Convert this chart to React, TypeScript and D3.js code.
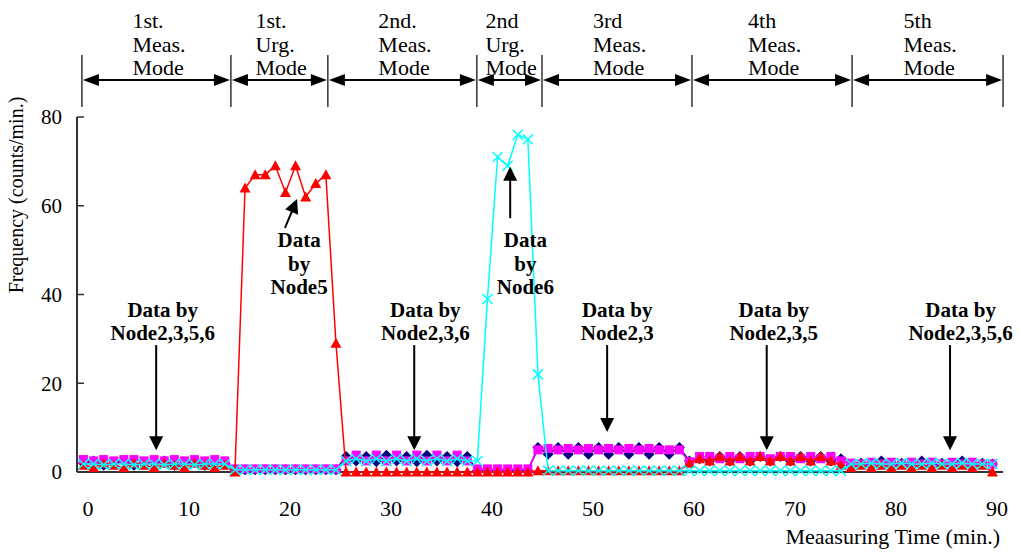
import React from "react";
import * as d3 from "d3";

// ---- data ----
const xTicks = [0, 10, 20, 30, 40, 50, 60, 70, 80, 90];
const yTicks = [0, 20, 40, 60, 80];

// sample index n = 0..90 (one sample per minute)
const node2 = [
  2, 2.5, 1.5, 2, 2.5, 1.5, 2, 2, 2.5, 1.5, 2, 2.5, 1.5, 2, 2,
  0.5, 0.5, 0.5, 0.5, 0.5, 0.5, 0.5, 0.5, 0.5, 0.5, 0.5,
  3.5, 2.5, 3.5, 2.3, 3.8, 2.5, 3.5, 2.3, 3.8, 2.5, 3.5, 2.3, 3.5,
  0.3, 0.3, 0.3, 0.3, 0.3, 0.3,
  5.5, 4, 5.5, 4, 5.5, 4, 5.5, 4, 5.5, 4, 5.5, 4, 5.5, 4, 5.5,
  2.5, 3, 2.5, 3.5, 2.5, 3.5, 2.5, 3.5, 2.5, 3.5, 2.5, 3.5, 2.5, 3.5, 2.5, 3,
  1.5, 2, 1.5, 2.5, 1.5, 2, 1.5, 2.5, 1.5, 2, 1.5, 2.5, 1.5, 2, 1.8,
];
const node3 = [
  2.8, 2.5, 2.8, 2.5, 2.8, 2.8, 2.5, 2.8, 2.5, 2.8, 2.5, 2.8, 2.5, 2.8, 2.5,
  0.7, 0.7, 0.7, 0.7, 0.7, 0.7, 0.7, 0.7, 0.7, 0.7, 0.7,
  2.5, 3.8, 2.5, 3.8, 2.5, 3.8, 2.5, 3.8, 2.5, 3.8, 2.5, 3.8, 2.5,
  0.7, 0.7, 0.7, 0.7, 0.7, 0.7,
  5, 5.3, 5, 5.3, 5, 5.3, 5, 5.3, 5, 5.3, 5, 5.3, 5, 5, 5,
  2.3, 3.5, 3.5, 3, 3.5, 3, 3.5, 3.5, 3, 3.5, 3.5, 3, 3.5, 3, 3.5, 2.5,
  2, 1.8, 2.2, 1.8, 2.2, 1.8, 2.2, 1.8, 2.2, 1.8, 2.2, 1.8, 2.2, 1.8, 1.8,
];
const node5 = [
  1.5, 1, 2, 1.5, 1, 2, 1.5, 1, 2, 1.5, 1, 2, 1.5, 1, 1.5,
  0, 64, 67, 67, 69, 63, 69, 62, 65, 67, 29,
  0, 0, 0, 0, 0, 0, 0, 0, 0, 0, 0, 0, 0,
  0, 0, 0, 0, 0, 0,
  0.3, 0.3, 0.3, 0.3, 0.3, 0.3, 0.3, 0.3, 0.3, 0.3, 0.3, 0.3, 0.3, 0.3, 0.3,
  2, 3, 2.5, 3.5, 2.5, 3.5, 2.5, 3.5, 2.5, 3.5, 2.5, 3.5, 2.5, 3.5, 2.5, 1.5,
  1, 1.5, 1, 1.5, 1, 1.5, 1, 1.5, 1, 1.5, 1, 1.5, 1, 1.5, 0,
];
const node6 = [
  1.8, 1.8, 1.6, 1.8, 1.8, 1.6, 1.8, 1.8, 1.6, 1.8, 1.8, 1.6, 1.8, 1.8, 1.8,
  0.5, 0.5, 0.5, 0.5, 0.5, 0.5, 0.5, 0.5, 0.5, 0.5, 0.5,
  2.5, 3, 2.5, 3, 2.5, 3, 2.5, 3, 2.5, 3, 2.5, 3, 2.5,
  2.5, 39, 71, 69, 76, 75,
  22, 0.3, 0.3, 0.3, 0.3, 0.3, 0.3, 0.3, 0.3, 0.3, 0.3, 0.3, 0.3, 0.3, 0.3,
  0.3, 0.3, 0.3, 0.3, 0.3, 0.3, 0.3, 0.3, 0.3, 0.3, 0.3, 0.3, 0.3, 0.3, 0.3, 0.3,
  1.8, 1.8, 2, 1.8, 1.8, 2, 1.8, 1.8, 2, 1.8, 1.8, 2, 1.8, 1.8, 1.8,
];
const sampleOffset = -0.45; // sample n is taken at minute n + offset

const modeBounds = [-0.6, 14.15, 23.75, 38.5, 44.95, 59.8, 75.65, 90.6];
const modeLabels = [
  ["1st.", "Meas.", "Mode"],
  ["1st.", "Urg.", "Mode"],
  ["2nd.", "Meas.", "Mode"],
  ["2nd", "Urg.", "Mode"],
  ["3rd", "Meas.", "Mode"],
  ["4th", "Meas.", "Mode"],
  ["5th", "Meas.", "Mode"],
];

// annotations: text centre (minute), first baseline (value), arrow from (t1,v1) to (t2,v2)
const notes = [
  { lines: ["Data by", "Node2,3,5,6"], t: 7.4, v: 35.0, a: [6.75, 28.6, 6.75, 4.9] },
  { lines: ["Data", "by", "Node5"], t: 20.9, v: 50.6, a: [19.5, 55.0, 20.7, 61.5] },
  { lines: ["Data by", "Node2,3,6"], t: 33.4, v: 35.0, a: [32.3, 28.6, 32.3, 4.9] },
  { lines: ["Data", "by", "Node6"], t: 43.3, v: 50.6, a: [41.8, 57.2, 41.8, 68.8] },
  { lines: ["Data by", "Node2,3"], t: 52.4, v: 35.0, a: [51.4, 28.6, 51.4, 9.0] },
  { lines: ["Data by", "Node2,3,5"], t: 67.9, v: 35.0, a: [67.2, 28.6, 67.2, 4.9] },
  { lines: ["Data by", "Node2,3,5,6"], t: 86.4, v: 35.0, a: [85.35, 28.6, 85.35, 4.9] },
];

const SERIF = "'Liberation Serif', 'Times New Roman', Times, serif";

export default function App() {
  const x = d3.scaleLinear().domain([0, 90]).range([88, 997]);
  const y = d3.scaleLinear().domain([0, 80]).range([472, 117]);
  const x0 = 77;
  const xEnd = 1003;

  const mk = (vals: number[]) => vals.map((v, i) => [x(i + sampleOffset), y(v)] as [number, number]);
  const line = d3.line<[number, number]>();

  const s2 = mk(node2);
  const s3 = mk(node3);
  const s5 = mk(node5);
  const s6 = mk(node6);

  const arrowHead = (x1: number, y1: number, x2: number, y2: number, len: number, hw: number) => {
    const dx = x2 - x1, dy = y2 - y1;
    const L = Math.hypot(dx, dy);
    const ux = dx / L, uy = dy / L;
    const bx = x2 - ux * len, by = y2 - uy * len;
    return `${x2},${y2} ${bx - uy * hw},${by + ux * hw} ${bx + uy * hw},${by - ux * hw}`;
  };

  const modeY = 80;

  return (
    <svg width={1019} height={552} style={{ position: "absolute", left: 0, top: 0, background: "#fff" }}>
      <rect width={1019} height={552} fill="#fff" />
      {/* mode bracket area */}
      {modeBounds.map((t, i) => (
        <line key={"mb" + i} x1={x(t)} x2={x(t)} y1={55} y2={107} stroke="#000" strokeWidth={1.2} />
      ))}
      {modeLabels.map((lab, i) => {
        const a = x(modeBounds[i]);
        const b = x(modeBounds[i + 1]);
        const c = (a + b) / 2;
        return (
          <g key={"ml" + i}>
            <line x1={a + 14} x2={b - 14} y1={modeY} y2={modeY} stroke="#000" strokeWidth={2} />
            <polygon points={arrowHead(b - 20, modeY, a + 1, modeY, 16, 6)} fill="#000" />
            <polygon points={arrowHead(a + 20, modeY, b - 1, modeY, 16, 6)} fill="#000" />
            {lab.map((s, k) => (
              <text key={k} x={c - 24} y={28 + k * 23.5} fontFamily={SERIF} fontSize={22} fill="#000">
                {s}
              </text>
            ))}
          </g>
        );
      })}

      {/* axes */}
      <line x1={x0} x2={x0} y1={y(80)} y2={y(0)} stroke="#333" strokeWidth={2} />
      <line x1={x0} x2={xEnd} y1={y(0)} y2={y(0)} stroke="#333" strokeWidth={2} />
      {yTicks.map((v) => (
        <g key={"yt" + v}>
          <line x1={x0} x2={x0 + 7} y1={y(v)} y2={y(v)} stroke="#333" strokeWidth={1.5} />
          <text x={62} y={y(v)} dy="0.35em" textAnchor="end" fontFamily={SERIF} fontSize={21} fill="#000">
            {v}
          </text>
        </g>
      ))}
      {xTicks.map((t) => (
        <text key={"xt" + t} x={x(t)} y={516} textAnchor="middle" fontFamily={SERIF} fontSize={22} fill="#000">
          {t}
        </text>
      ))}
      <text x={1000} y={544} textAnchor="end" fontFamily={SERIF} fontSize={22} fill="#000">
        Meaasuring Time (min.)
      </text>
      <text
        transform={`translate(23,${195}) rotate(-90)`}
        textAnchor="middle"
        fontFamily={SERIF}
        fontSize={20}
        fill="#000"
      >
        Frequency (counts/min.)
      </text>

      {/* series: Node2 navy diamond */}
      <path d={line(s2) || ""} fill="none" stroke="#000080" strokeWidth={1.5} />
      {s2.map(([px, py], i) => (
        <polygon key={"d" + i} points={`${px},${py - 5.5} ${px + 5.5},${py} ${px},${py + 5.5} ${px - 5.5},${py}`} fill="#000080" />
      ))}
      {/* Node3 magenta square */}
      <path d={line(s3) || ""} fill="none" stroke="#FF00FF" strokeWidth={1.5} />
      {s3.map(([px, py], i) => (
        <rect key={"s" + i} x={px - 4.5} y={py - 4.5} width={9} height={9} fill="#FF00FF" />
      ))}
      {/* Node5 red triangle */}
      <path d={line(s5) || ""} fill="none" stroke="#FF0000" strokeWidth={1.5} />
      {s5.map(([px, py], i) => (
        <polygon key={"t" + i} points={`${px},${py - 5.5} ${px + 5.5},${py + 4.5} ${px - 5.5},${py + 4.5}`} fill="#FF0000" />
      ))}
      {/* Node6 cyan x */}
      <path d={line(s6) || ""} fill="none" stroke="#00FFFF" strokeWidth={1.5} />
      {s6.map(([px, py], i) => (
        <path key={"x" + i} d={`M${px - 5},${py - 5}L${px + 5},${py + 5}M${px - 5},${py + 5}L${px + 5},${py - 5}`} stroke="#00FFFF" strokeWidth={1.5} />
      ))}

      {/* annotations */}
      {notes.map((n, i) => {
        const [t1, v1, t2, v2] = n.a;
        const X1 = x(t1), Y1 = y(v1), X2 = x(t2), Y2 = y(v2);
        const dx = X2 - X1, dy = Y2 - Y1, L = Math.hypot(dx, dy);
        return (
          <g key={"n" + i}>
            {n.lines.map((s, k) => (
              <text key={k} x={x(n.t)} y={y(n.v) + k * 23.5} textAnchor="middle" fontFamily={SERIF} fontWeight="bold" fontSize={21} fill="#000">
                {s}
              </text>
            ))}
            <line x1={X1} y1={Y1} x2={X2 - (dx / L) * 10} y2={Y2 - (dy / L) * 10} stroke="#000" strokeWidth={2} />
            <polygon points={arrowHead(X1, Y1, X2, Y2, 14, 7)} fill="#000" />
          </g>
        );
      })}
    </svg>
  );
}
